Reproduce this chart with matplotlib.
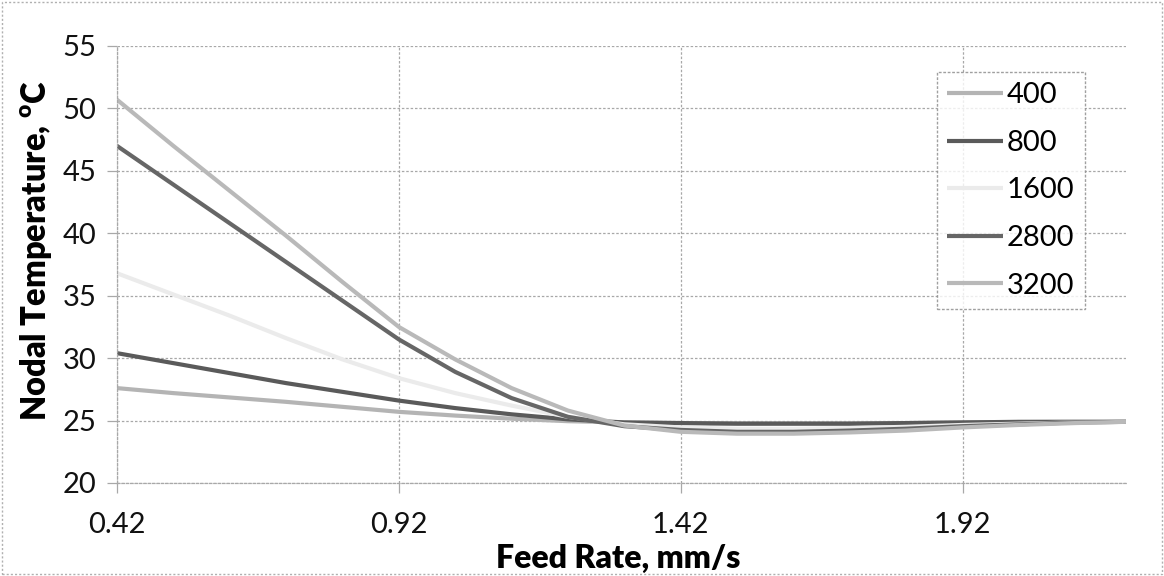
import matplotlib
matplotlib.use("Agg")
import matplotlib.pyplot as plt
from matplotlib.patches import Rectangle

plt.rcParams['font.family'] = ['Lato', 'DejaVu Sans']

# Feed rate (mm/s) sample positions
feed_rate = [0.42, 0.52, 0.62, 0.72, 0.82, 0.92, 1.02, 1.12, 1.22, 1.32,
             1.42, 1.52, 1.62, 1.72, 1.82, 1.92, 2.02, 2.12, 2.21]

# Nodal temperature (°C) for each series
t_400 = [27.6, 27.2, 26.85, 26.5, 26.1, 25.7, 25.4, 25.15, 24.95, 24.85,
         24.8, 24.78, 24.78, 24.78, 24.8, 24.85, 24.88, 24.9, 24.9]
t_800 = [30.4, 29.6, 28.8, 28.0, 27.3, 26.6, 26.0, 25.5, 25.1, 24.85,
         24.8, 24.75, 24.75, 24.75, 24.8, 24.85, 24.9, 24.9, 24.9]
t_1600 = [36.8, 35.1, 33.4, 31.6, 29.9, 28.4, 27.2, 26.2, 25.3, 24.7,
          24.45, 24.35, 24.35, 24.4, 24.5, 24.65, 24.75, 24.85, 24.9]
t_2800 = [47.0, 43.9, 40.8, 37.7, 34.6, 31.5, 28.9, 26.8, 25.3, 24.55,
          24.25, 24.1, 24.1, 24.2, 24.35, 24.55, 24.7, 24.85, 24.9]
t_3200 = [50.7, 47.0, 43.4, 39.8, 36.1, 32.5, 29.9, 27.6, 25.8, 24.6,
          24.1, 23.95, 23.95, 24.05, 24.2, 24.45, 24.65, 24.8, 24.9]

series_labels = ["400", "800", "1600", "2800", "3200"]
series_values = [t_400, t_800, t_1600, t_2800, t_3200]
series_colors = ["#b4b4b4", "#5a5a5a", "#ebebeb", "#666666", "#b9b9b9"]

x_ticks = [0.42, 0.92, 1.42, 1.92]
x_tick_labels = ["0.42", "0.92", "1.42", "1.92"]
y_ticks = [20, 25, 30, 35, 40, 45, 50, 55]

fig = plt.figure(figsize=(11.64, 5.76), dpi=100)
ax = fig.add_axes([117 / 1164, 1 - 483 / 576, (1126 - 117) / 1164, (483 - 46) / 576])

for label, vals, col in zip(series_labels, series_values, series_colors):
    ax.plot(feed_rate, vals, color=col, lw=3.0, label=label, solid_capstyle='butt')

ax.set_xlim(0.42, 2.21)
ax.set_ylim(20, 55)
ax.set_xticks(x_ticks)
ax.set_xticklabels(x_tick_labels)
ax.set_yticks(y_ticks)

grid_col = "#a8a8a8"
ax.grid(True, color=grid_col, lw=0.9, ls=(0, (2, 1.5)))
ax.set_axisbelow(True)
for side in ("top", "right"):
    ax.spines[side].set_visible(False)
for side in ("left", "bottom"):
    ax.spines[side].set_color(grid_col)
    ax.spines[side].set_linewidth(0.9)
    ax.spines[side].set_linestyle((0, (2, 1.5)))
ax.tick_params(axis='both', length=7, width=0.9, color=grid_col,
               labelsize=21, labelcolor="#111111", pad=8)
ax.tick_params(axis='x', pad=14)

ax.set_xlabel("Feed Rate, mm/s", fontsize=23, fontweight="heavy")
ax.xaxis.set_label_coords((618 - 117) / 1009, -(558 - 483) / 437)
ax.xaxis.label.set_va("center")
ax.set_ylabel("Nodal Temperature, $^{\\mathregular{o}}$C", fontsize=23.5,
              fontweight="heavy")
ax.yaxis.set_label_coords(-(117 - 36) / 1009, (483 - 250) / 437)
ax.yaxis.label.set_va("center")

leg = fig.legend(loc="upper left", bbox_to_anchor=(937 / 1164, 1 - 72 / 576),
                 fontsize=21, frameon=True, fancybox=False, handlelength=1.9,
                 handletextpad=0.15, labelspacing=0.74, borderpad=0.35,
                 borderaxespad=0)
leg.get_frame().set_edgecolor("#888888")
leg.get_frame().set_linewidth(1.0)
leg.get_frame().set_linestyle((0, (2, 1.2)))

# dotted border round the whole chart
fig.patches.append(Rectangle((0.002, 0.003), 0.996, 0.994, transform=fig.transFigure,
                             fill=False, edgecolor="#b0b0b0", lw=1.0,
                             ls=(0, (1.5, 1.5))))

fig.savefig("out.png", dpi=100)
